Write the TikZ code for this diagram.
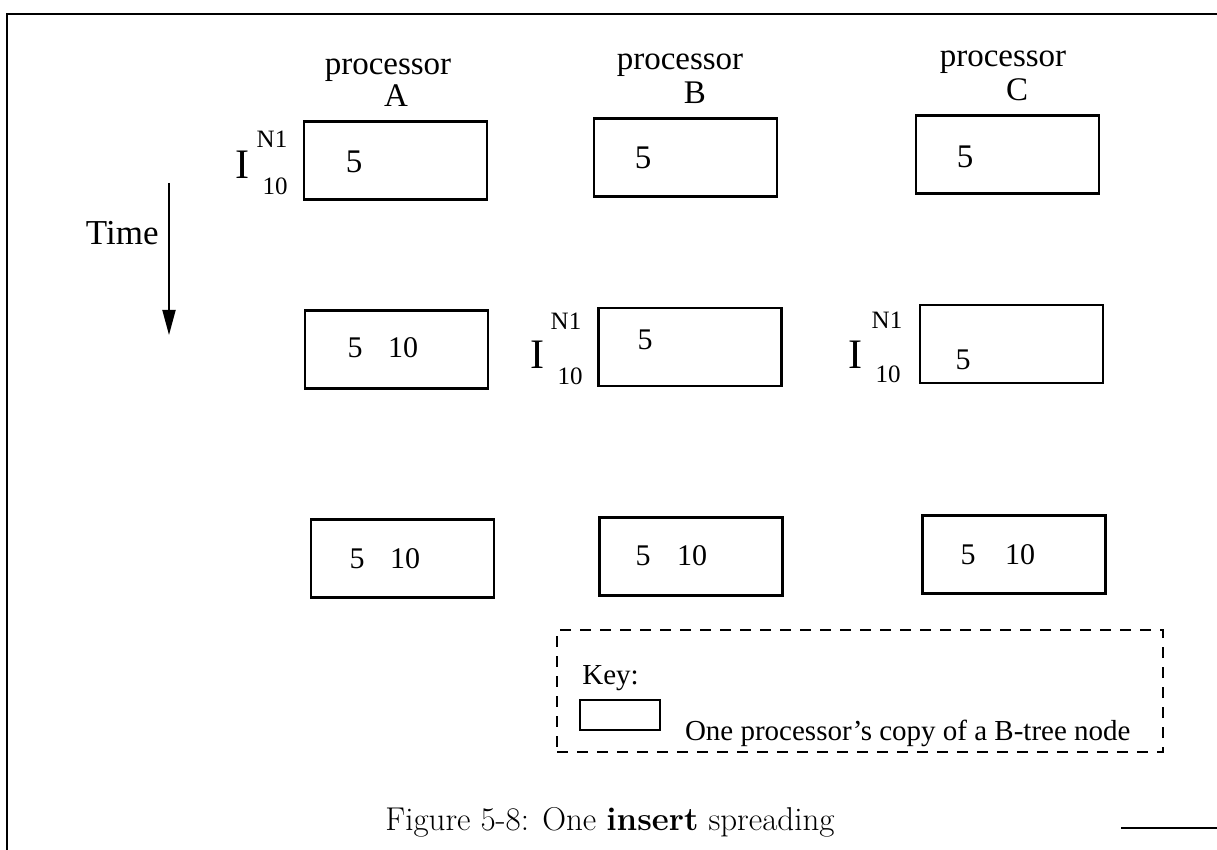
\documentclass[tikz,border=0pt]{standalone}
\usepackage{fontspec}
\newfontfamily\tms{Liberation Serif}
\usetikzlibrary{arrows.meta}
\begin{document}
\begin{tikzpicture}[x=0.5pt,y=-0.5pt,
  box/.style={draw, line width=1.2pt, minimum width=91.5pt, minimum height=39pt, inner sep=0pt},
  lbl/.style={font=\tms\fontsize{16.5}{18}\selectfont, inner sep=0pt, anchor=base},
  num/.style={font=\tms\fontsize{15}{17}\selectfont, inner sep=0pt, anchor=base},
  numbig/.style={font=\tms\fontsize{16.5}{18}\selectfont, inner sep=0pt, anchor=base},
  bigI/.style={font=\tms\fontsize{21}{23}\selectfont, inner sep=0pt, anchor=base},
  idx/.style={font=\tms\fontsize{12.5}{14}\selectfont, inner sep=0pt, anchor=base},
  keytxt/.style={font=\tms\fontsize{14.5}{16}\selectfont, inner sep=0pt},
  frame/.style={line width=0.7pt},
  keybox/.style={draw, line width=1pt, dash pattern=on 5.5pt off 4.5pt},
  timearrow/.style={line width=0.9pt, -{Triangle[length=12.5pt,width=6.5pt]}}
]
\useasboundingbox (0,0) rectangle (1217,850);

% page frame fragments
\coordinate (f0) at (7,850);
\coordinate (f1) at (7,14);
\coordinate (f2) at (1217,14);
\coordinate (g0) at (1121,828);
\coordinate (g1) at (1217,828);
\draw[frame] (f0) -- (f1) -- (f2);
\draw[frame] (g0) -- (g1);

% processor headings
\node[lbl] (pA) at (388,75) {processor};
\node[lbl] (hA) at (396,107) {A};
\node[lbl] (pB) at (680,70) {processor};
\node[lbl] (hB) at (695,104) {B};
\node[lbl] (pC) at (1003,67) {processor};
\node[lbl] (hC) at (1017,101) {C};

% row 1
\node[box] (A1) at (395.5,160.5) {};
\node[box] (B1) at (685.5,157.5) {};
\node[box] (C1) at (1007.5,154.5) {};
\node[numbig] (A1a) at (354,173) {5};
\node[numbig] (B1a) at (643,169) {5};
\node[numbig] (C1a) at (965,168) {5};
\node[bigI] (IA) at (242,179) {I};
\node[idx] (IAs) at (272,148) {N1};
\node[idx] (IAb) at (275,195) {10};

% row 2
\node[box] (A2) at (396.5,349.5) {};
\node[box] (B2) at (690,347) {};
\node[box] (C2) at (1011.5,344) {};
\node[num] (A2a) at (355,358) {5};
\node[num] (A2b) at (403,358) {10};
\node[num] (B2a) at (645,350) {5};
\node[num] (C2a) at (963,370) {5};
\node[bigI] (IB) at (537,369) {I};
\node[idx] (IBs) at (566,330) {N1};
\node[idx] (IBb) at (570,385) {10};
\node[bigI] (IC) at (855,369) {I};
\node[idx] (ICs) at (887,329) {N1};
\node[idx] (ICb) at (888,383) {10};

% row 3
\node[box] (A3) at (402.5,558.5) {};
\node[box] (B3) at (691,556.5) {};
\node[box] (C3) at (1014,554.5) {};
\node[num] (A3a) at (357,568) {5};
\node[num] (A3b) at (405,568) {10};
\node[num] (B3a) at (643,566) {5};
\node[num] (B3b) at (692,566) {10};
\node[num] (C3a) at (968,565) {5};
\node[num] (C3b) at (1020,565) {10};

% time arrow
\coordinate (t0) at (169,183);
\coordinate (t1) at (169,335);
\draw[timearrow] (t0) -- (t1);
\node[lbl, font=\tms\fontsize{17.5}{19}\selectfont, anchor=base east] (time) at (159,245) {Time};

% key
\node[keybox, minimum width=303pt, minimum height=61pt, inner sep=0pt] (key) at (860,691) {};
\node[keytxt, anchor=base west] (keyl) at (582,684) {Key:};
\node[draw, line width=1.1pt, minimum width=40pt, minimum height=15pt, inner sep=0pt] (keyb) at (620,715) {};
\node[keytxt, anchor=base east] (keyd) at (1131,740) {One processor’s copy of a B-tree node};

% caption
\node[font=\fontsize{16.5}{18}\selectfont, inner sep=0pt, anchor=base] (cap) at (610,830) {Figure 5-8: One \textbf{insert} spreading};
\end{tikzpicture}
\end{document}
